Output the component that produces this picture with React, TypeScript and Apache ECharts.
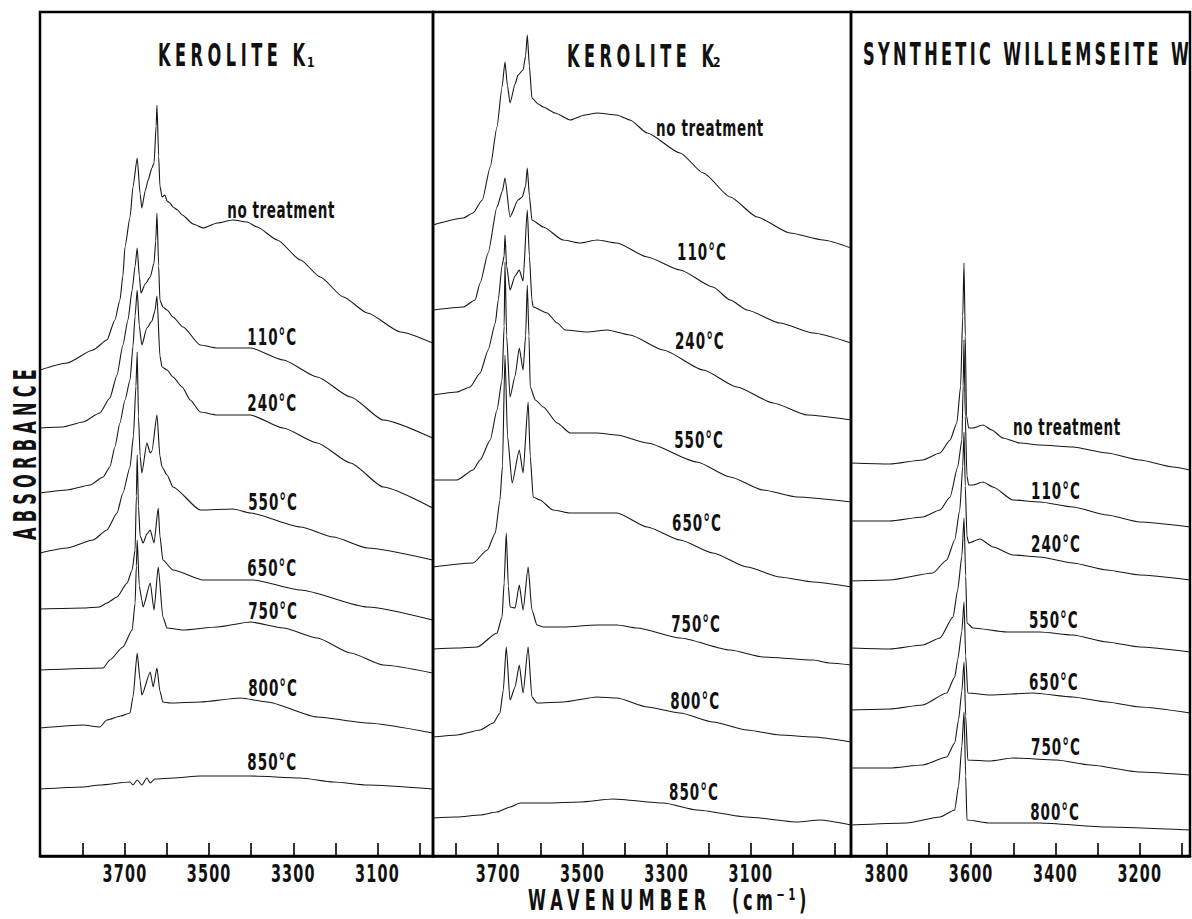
import React, { useEffect, useRef } from "react";
import * as echarts from "echarts";

const FONT = "'Liberation Sans Narrow', 'DejaVu Sans Condensed', 'Roboto Condensed', sans-serif";

// ---------- Panel 1: Kerolite K1  [wavenumber (cm-1), absorbance (arb., offset)] ----------
const k1Range = [2968, 3902];
const k1Ticks = [3800, 3700, 3600, 3500, 3400, 3300, 3200, 3100, 3000];
const k1TickLabels = [3700, 3500, 3300, 3100];

const k1NoTreatment = [[3902,486],[3838,493],[3776,506],[3743,516],[3724,536],[3712,556],[3705,580],[3700,609],[3688,639],[3681,669],[3671,698],[3664,662],[3660,648],[3652,665],[3645,676],[3636,688],[3631,693],[3626,730],[3624,751],[3620,700],[3617,670],[3612,659],[3605,661],[3600,655],[3593,653],[3586,649],[3575,646],[3564,641],[3538,632],[3514,628],[3481,633],[3443,636],[3410,634],[3386,629],[3338,616],[3283,596],[3236,579],[3181,559],[3124,543],[3045,524],[2969,513]];
const k1T110 = [[3902,428],[3848,429],[3800,434],[3760,443],[3736,458],[3719,481],[3705,511],[3693,536],[3683,566],[3676,590],[3671,608],[3666,580],[3662,563],[3652,572],[3640,579],[3631,593],[3627,615],[3624,643],[3620,590],[3617,556],[3610,549],[3600,546],[3586,539],[3562,529],[3521,511],[3481,508],[3402,508],[3324,496],[3243,479],[3164,459],[3086,436],[2969,418]];
const k1T240 = [[3902,363],[3838,366],[3783,371],[3752,379],[3736,389],[3724,409],[3712,433],[3700,456],[3688,476],[3681,510],[3676,540],[3671,566],[3666,530],[3660,511],[3648,528],[3636,535],[3629,545],[3624,560],[3617,500],[3612,489],[3600,486],[3586,479],[3564,469],[3545,456],[3521,444],[3481,441],[3402,441],[3324,428],[3243,413],[3164,393],[3086,369],[2969,348]];
const k1T550 = [[3902,303],[3838,308],[3776,316],[3743,326],[3719,343],[3705,363],[3688,389],[3680,420],[3674,470],[3671,504],[3668,440],[3664,400],[3660,383],[3648,413],[3640,403],[3636,405],[3624,441],[3617,400],[3612,389],[3600,381],[3586,369],[3521,346],[3443,347],[3402,343],[3283,329],[3205,319],[3124,308],[2969,296]];
const k1T650 = [[3902,247],[3800,248],[3760,249],[3743,253],[3719,259],[3695,273],[3683,286],[3676,306],[3673,360],[3671,401],[3668,350],[3664,320],[3657,313],[3648,322],[3640,326],[3631,313],[3621,348],[3617,320],[3610,296],[3586,286],[3514,276],[3395,276],[3283,266],[3124,249],[2969,236]];
const k1T750 = [[3902,186],[3752,188],[3736,196],[3705,209],[3683,226],[3676,253],[3673,290],[3671,316],[3666,270],[3660,256],[3657,249],[3640,273],[3631,246],[3621,289],[3610,239],[3600,228],[3562,226],[3481,229],[3402,234],[3324,228],[3243,218],[3164,203],[3086,191],[2969,183]];
const k1T800 = [[3902,128],[3800,131],[3760,129],[3743,136],[3710,140],[3688,143],[3681,159],[3671,203],[3664,175],[3660,161],[3640,184],[3633,169],[3624,188],[3617,165],[3610,154],[3593,153],[3521,154],[3426,158],[3362,154],[3243,139],[3124,133],[2969,123]];
const k1T850 = [[3902,67],[3800,69],[3760,71],[3688,74],[3681,71],[3671,76],[3660,71],[3648,78],[3640,73],[3629,77],[3586,78],[3521,80],[3402,80],[3283,78],[3205,74],[3124,71],[2969,67]];
const k1Labels = ["no treatment", "110°C", "240°C", "550°C", "650°C", "750°C", "800°C", "850°C"];
const k1LabelAt = [[3329,646],[3350,519],[3350,453],[3348,354],[3350,288],[3348,245],[3348,168],[3350,94]];

// ---------- Panel 2: Kerolite K2 ----------
const k2Range = [2862, 3855];
const k2Ticks = [3800, 3700, 3600, 3500, 3400, 3300, 3200, 3100, 3000, 2900];
const k2TickLabels = [3700, 3500, 3300, 3100];

const k2NoTreatment = [[3855,631],[3783,638],[3760,643],[3738,656],[3719,689],[3703,729],[3691,769],[3684,794],[3678,770],[3672,753],[3660,772],[3653,781],[3641,786],[3635,800],[3631,821],[3626,790],[3620,758],[3605,752],[3593,749],[3565,743],[3529,736],[3495,741],[3465,743],[3418,741],[3387,736],[3346,723],[3268,703],[3213,683],[3149,659],[3085,639],[3007,623],[2928,616],[2862,608]];
const k2T110 = [[3855,546],[3783,549],[3755,556],[3743,573],[3724,603],[3703,649],[3690,665],[3684,678],[3672,639],[3653,656],[3643,659],[3635,670],[3631,688],[3626,660],[3620,636],[3593,629],[3546,616],[3506,613],[3465,616],[3418,613],[3346,599],[3268,586],[3190,569],[3149,556],[3109,546],[3031,533],[2952,523],[2862,513]];
const k2T240 = [[3855,461],[3798,464],[3767,469],[3743,483],[3724,506],[3707,533],[3700,556],[3691,590],[3686,600],[3684,621],[3680,590],[3672,566],[3660,580],[3650,586],[3641,575],[3631,646],[3626,600],[3620,556],[3617,549],[3584,543],[3560,533],[3541,526],[3489,524],[3441,526],[3387,521],[3308,506],[3213,486],[3133,469],[3047,453],[2966,441],[2862,436]];
const k2T550 = [[3855,376],[3798,376],[3760,386],[3743,396],[3719,416],[3703,446],[3691,476],[3686,530],[3684,594],[3680,520],[3672,459],[3660,480],[3650,508],[3641,486],[3635,520],[3631,571],[3627,520],[3624,469],[3612,456],[3593,449],[3560,433],[3529,423],[3465,423],[3418,421],[3346,413],[3228,394],[3149,379],[3071,366],[2990,359],[2862,354]];
const k2T650 = [[3855,289],[3760,293],[3726,306],[3707,323],[3696,356],[3690,390],[3684,501],[3678,420],[3667,373],[3650,406],[3641,383],[3629,454],[3624,400],[3617,359],[3601,356],[3570,346],[3529,343],[3418,343],[3346,329],[3268,316],[3190,303],[3109,289],[3031,279],[2952,274],[2862,269]];
const k2T750 = [[3855,207],[3798,208],[3750,209],[3703,223],[3691,239],[3686,273],[3681,323],[3676,270],[3672,249],[3660,248],[3650,271],[3641,246],[3629,289],[3620,246],[3608,231],[3593,229],[3546,229],[3465,231],[3418,231],[3370,228],[3268,218],[3149,206],[3071,199],[2952,196],[2912,193],[2862,191]];
const k2T800 = [[3855,119],[3798,121],[3743,126],[3712,133],[3696,143],[3688,166],[3681,209],[3672,156],[3660,169],[3650,191],[3641,163],[3629,209],[3620,159],[3608,153],[3546,154],[3465,159],[3418,158],[3346,149],[3268,143],[3190,134],[3109,126],[3031,121],[2952,119],[2862,114]];
const k2T850 = [[3855,38],[3798,39],[3743,41],[3703,44],[3672,49],[3648,53],[3631,53],[3584,53],[3506,54],[3427,57],[3308,53],[3228,46],[3109,39],[2990,34],[2936,36],[2862,31]];
const k2Labels = ["no treatment", "110°C", "240°C", "550°C", "650°C", "750°C", "800°C", "850°C"];
const k2LabelAt = [[3197,728],[3216,604],[3221,515],[3223,416],[3228,333],[3230,232],[3232,155],[3235,64]];

// ---------- Panel 3: Synthetic willemseite W ----------
const wRange = [3081, 3885];
const wTicks = [3800, 3700, 3600, 3500, 3400, 3300, 3200, 3100];
const wTickLabels = [3800, 3600, 3400, 3200];

const wNoTreatment = [[3885,393],[3793,392],[3715,396],[3674,403],[3650,416],[3634,433],[3625,470],[3620,540],[3617,593],[3614,520],[3611,440],[3606,428],[3596,428],[3572,431],[3551,426],[3525,418],[3484,413],[3437,411],[3359,409],[3278,403],[3200,396],[3121,389],[3081,386]];
const wT110 = [[3885,335],[3793,335],[3715,339],[3674,346],[3650,359],[3632,389],[3622,416],[3619,470],[3617,516],[3614,440],[3610,380],[3606,371],[3596,371],[3572,374],[3548,369],[3501,356],[3437,354],[3359,349],[3278,341],[3200,334],[3081,329]];
const wT240 = [[3885,275],[3793,276],[3691,283],[3658,296],[3639,316],[3627,346],[3620,390],[3617,424],[3614,370],[3610,320],[3606,313],[3579,317],[3548,309],[3501,301],[3437,299],[3359,293],[3278,286],[3200,281],[3081,276]];
const wT550 = [[3885,208],[3793,207],[3715,211],[3674,218],[3643,239],[3632,266],[3622,300],[3617,338],[3613,280],[3610,233],[3596,228],[3515,224],[3437,224],[3359,221],[3278,214],[3200,209],[3081,204]];
const wT650 = [[3885,146],[3793,147],[3715,151],[3658,163],[3639,179],[3632,196],[3622,225],[3617,254],[3613,200],[3608,163],[3556,161],[3454,163],[3359,159],[3278,154],[3200,149],[3081,143]];
const wT750 = [[3885,88],[3793,88],[3715,91],[3658,99],[3639,113],[3630,136],[3622,165],[3617,194],[3613,140],[3608,96],[3556,95],[3501,98],[3397,96],[3318,91],[3200,84],[3081,81]];
const wT800 = [[3885,31],[3753,33],[3674,39],[3639,46],[3630,70],[3622,110],[3617,144],[3613,80],[3610,36],[3556,33],[3437,33],[3278,29],[3081,26]];
const wLabels = ["no treatment", "110°C", "240°C", "550°C", "650°C", "750°C", "800°C"];
const wLabelAt = [[3373,429],[3399,365],[3399,312],[3404,236],[3404,174],[3399,109],[3401,44]];

const absorbanceRange = [0, 844];

const panels = [
  { range: k1Range, ticks: k1Ticks, tickLabels: k1TickLabels, curves: [k1NoTreatment, k1T110, k1T240, k1T550, k1T650, k1T750, k1T800, k1T850], labels: k1Labels, labelAt: k1LabelAt },
  { range: k2Range, ticks: k2Ticks, tickLabels: k2TickLabels, curves: [k2NoTreatment, k2T110, k2T240, k2T550, k2T650, k2T750, k2T800, k2T850], labels: k2Labels, labelAt: k2LabelAt },
  { range: wRange, ticks: wTicks, tickLabels: wTickLabels, curves: [wNoTreatment, wT110, wT240, wT550, wT650, wT750, wT800], labels: wLabels, labelAt: wLabelAt },
];

const gridBoxes = [
  { left: 40, width: 393 },
  { left: 433, width: 418 },
  { left: 851, width: 339 },
];

function spacingFor(t: string): number | null {
  if (t === "KEROLITE K") return 4.5;
  if (t === "SYNTHETIC WILLEMSEITE W") return 3.3;
  if (t === "ABSORBANCE") return 5.2;
  if (t === "WAVENUMBER") return 5.3;
  if (t === "(cm⁻¹)") return 3.5;
  if (t === "no treatment") return 0.6;
  if (/°C$/.test(t)) return 1;
  if (/^\d{4}$/.test(t)) return 1.2;
  return null;
}

function applySpacing(el: HTMLElement) {
  el.querySelectorAll("text").forEach((node) => {
    const s = spacingFor((node.textContent || "").trim());
    if (s != null) node.setAttribute("letter-spacing", String(s));
  });
}

function txt(text: string, x: number, y: number, size: number, scaleY: number, align: string, rotation = 0) {
  return {
    type: "text",
    x,
    y,
    rotation,
    scaleY,
    silent: true,
    style: {
      text,
      fontSize: size,
      fontWeight: "bold",
      fontFamily: FONT,
      fill: "#111",
      textAlign: align,
      textVerticalAlign: "middle",
    },
  };
}

export default function App() {
  const ref = useRef<HTMLDivElement>(null);
  useEffect(() => {
    const el = ref.current!;
    const chart = echarts.init(el, null, { renderer: "svg" });

    const grid = gridBoxes.map((g) => ({
      ...g,
      top: 12,
      height: 844,
      show: true,
      borderColor: "#000",
      borderWidth: 2.5,
      backgroundColor: "transparent",
    }));

    const xAxis = panels.map((p, i) => ({
      type: "value",
      gridIndex: i,
      min: p.range[0],
      max: p.range[1],
      inverse: true,
      splitLine: { show: false },
      axisLine: { show: true, onZero: false, lineStyle: { color: "#000", width: 2.5 } },
      axisTick: { show: true, inside: true, length: 13, customValues: p.ticks, lineStyle: { color: "#000", width: 1.6 } },
      axisLabel: { show: false },
    }));

    const yAxis = panels.map((_, i) => ({
      type: "value",
      gridIndex: i,
      min: absorbanceRange[0],
      max: absorbanceRange[1],
      show: false,
      splitLine: { show: false },
    }));

    const series: any[] = [];
    panels.forEach((p, i) => {
      p.curves.forEach((c, j) => {
        series.push({
          type: "line",
          name: `${i}-${p.labels[j]}`,
          xAxisIndex: i,
          yAxisIndex: i,
          data: c,
          showSymbol: false,
          symbol: "none",
          silent: true,
          smooth: 0.2,
          smoothMonotone: "x",
          lineStyle: { color: "#161616", width: 1.1 },
        });
      });
    });

    chart.setOption({
      animation: false,
      backgroundColor: "#fff",
      grid,
      xAxis,
      yAxis,
      series,
    });

    const dynEls: any[] = [];
    panels.forEach((p, i) => {
      p.labels.forEach((t, j) => {
        const pt = chart.convertToPixel({ gridIndex: i } as any, p.labelAt[j]) as number[];
        dynEls.push(txt(t, pt[0], pt[1], 15, 1.55, "center"));
      });
      p.tickLabels.forEach((v) => {
        const pt = chart.convertToPixel({ gridIndex: i } as any, [v, absorbanceRange[0]]) as number[];
        dynEls.push(txt(String(v), pt[0], pt[1] + 17, 16, 1.6, "center"));
      });
    });

    const staticEls = [
      txt("KEROLITE K", 158, 55, 18, 1.75, "left"),
      txt("1", 307, 62, 12, 1.2, "left"),
      txt("KEROLITE K", 567, 56, 18, 1.75, "left"),
      txt("2", 713, 62, 12, 1.2, "left"),
      txt("SYNTHETIC WILLEMSEITE W", 863, 54, 18, 1.75, "left"),
      txt("ABSORBANCE", 25, 452, 18, 1.75, "center", Math.PI / 2),
      txt("WAVENUMBER", 528, 900, 18, 1.6, "left"),
      txt("(cm⁻¹)", 732, 900, 18, 1.6, "left"),
    ];

    chart.setOption({ graphic: { elements: [...staticEls, ...dynEls] } });
    applySpacing(el);
    chart.on("finished", () => applySpacing(el));
    const t = setTimeout(() => applySpacing(el), 50);

    return () => {
      clearTimeout(t);
      chart.dispose();
    };
  }, []);

  return (
    <div
      ref={ref}
      style={{ position: "absolute", left: 0, top: 0, width: 1192, height: 919, background: "#fff" }}
    />
  );
}
